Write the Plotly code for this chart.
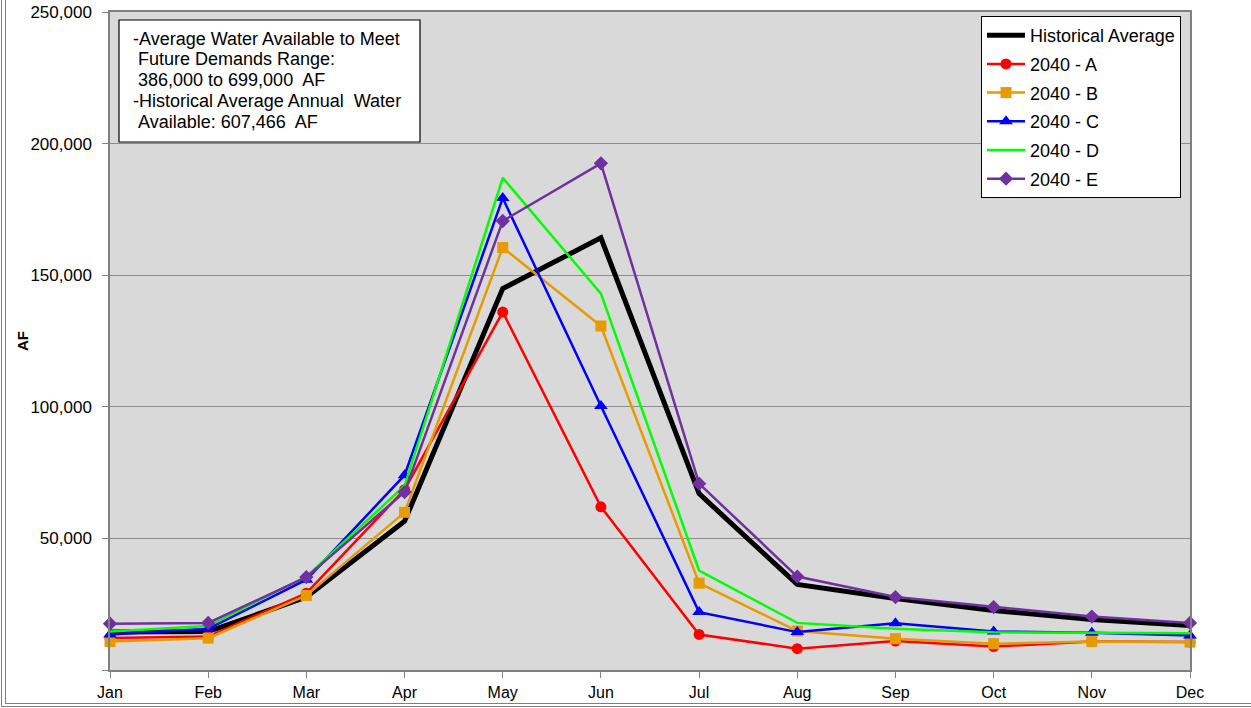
import plotly.graph_objects as go

months = ["Jan", "Feb", "Mar", "Apr", "May", "Jun", "Jul", "Aug", "Sep", "Oct", "Nov", "Dec"]

hist_avg = [14400, 14600, 27700, 56500, 144900, 164200, 67000, 32500, 27200, 22600, 19200, 16900]
s_2040_a = [12200, 12700, 29200, 68500, 136000, 62000, 13500, 8100, 11000, 8900, 10800, 10600]
s_2040_b = [10800, 12100, 28300, 59900, 160500, 130700, 33000, 14800, 11900, 10000, 10800, 10600]
s_2040_c = [13500, 15700, 34300, 74000, 179300, 100300, 22000, 14400, 17800, 14600, 14200, 13100]
s_2040_d = [14600, 16700, 35500, 70000, 187000, 143000, 37800, 17900, 15700, 14300, 14200, 14000]
s_2040_e = [17600, 17900, 35300, 67600, 170600, 192500, 70800, 35500, 27700, 23900, 20300, 17900]

y_tickvals = [0, 50000, 100000, 150000, 200000, 250000]
y_ticktext = ["", "50,000", "100,000", "150,000", "200,000", "250,000"]

note_lines = [
    "-Average Water Available to Meet",
    "\u00a0Future Demands Range:",
    "\u00a0386,000 to 699,000  AF",
    "-Historical Average Annual  Water",
    "\u00a0Available: 607,466  AF",
]

FONT = "Liberation Sans, Arial, sans-serif"

W, H = 1251, 708
L, R, T, B = 110, 1190, 12, 670
PW, PH = R - L, B - T


def px(x):
    return (x - L) / PW


def py(y):
    return (B - y) / PH


fig = go.Figure()

series = [
    ("Historical Average", hist_avg, "#000000", 5, None, 0),
    ("2040 - A", s_2040_a, "#FF0000", 2.5, "circle", 11),
    ("2040 - B", s_2040_b, "#E69B00", 2.5, "square", 11),
    ("2040 - C", s_2040_c, "#0000FF", 2.5, "triangle-up", 12),
    ("2040 - D", s_2040_d, "#00FF00", 2.5, None, 0),
    ("2040 - E", s_2040_e, "#7030A0", 2.5, "diamond", 11),
]

for name, vals, color, lw, sym, size in series:
    if sym:
        fig.add_trace(go.Scatter(
            x=months, y=vals, name=name, mode="lines+markers",
            line=dict(color=color, width=lw),
            marker=dict(symbol=sym, size=size, color=color),
            cliponaxis=False, legendgroup=name,
        ))
    else:
        fig.add_trace(go.Scatter(
            x=months, y=vals, name=name, mode="lines",
            line=dict(color=color, width=lw),
            cliponaxis=False, legendgroup=name,
        ))

shapes = [
    # note box
    dict(type="rect", xref="paper", yref="paper",
         x0=px(119), x1=px(420), y0=py(142), y1=py(20),
         line=dict(color="black", width=1.2), fillcolor="white", layer="above"),
    # outer frame (left double line, bottom double line)
    dict(type="line", xref="paper", yref="paper", x0=px(1.5), x1=px(1.5), y0=py(707), y1=py(-5),
         line=dict(color="#7f7f7f", width=1)),
    dict(type="line", xref="paper", yref="paper", x0=px(5.5), x1=px(5.5), y0=py(704), y1=py(-5),
         line=dict(color="#7f7f7f", width=1)),
    dict(type="line", xref="paper", yref="paper", x0=px(1.5), x1=px(1260), y0=py(706.5), y1=py(706.5),
         line=dict(color="#7f7f7f", width=1)),
    dict(type="line", xref="paper", yref="paper", x0=px(5.5), x1=px(1260), y0=py(703.5), y1=py(703.5),
         line=dict(color="#7f7f7f", width=1)),
]

annotations = []
for i, line in enumerate(note_lines):
    annotations.append(dict(
        xref="paper", yref="paper", x=px(131), y=py(38.5 + 20.8 * i),
        xanchor="left", yanchor="middle", showarrow=False, align="left",
        text=line, font=dict(family=FONT, size=18, color="black"),
    ))
annotations.append(dict(
    xref="paper", yref="paper", x=px(22), y=0.5, xanchor="center", yanchor="middle",
    showarrow=False, text="<b>AF</b>", textangle=-90,
    font=dict(family=FONT, size=15, color="black"),
))

fig.update_layout(
    width=W, height=H,
    margin=dict(l=L, r=W - R, t=T, b=H - B, pad=0, autoexpand=False),
    paper_bgcolor="white",
    plot_bgcolor="#D9D9D9",
    font=dict(family=FONT, size=16, color="black"),
    showlegend=True,
    legend=dict(
        x=px(1181), y=py(16), xanchor="right", yanchor="top",
        bgcolor="white", bordercolor="black", borderwidth=1,
        font=dict(family=FONT, size=18, color="black"),
        tracegroupgap=2.3, itemwidth=38,
        traceorder="grouped",
    ),
    xaxis=dict(
        type="category", range=[0, len(months) - 1], automargin=False,
        showgrid=False, zeroline=False,
        showline=True, linecolor="#808080", linewidth=1.5, mirror=True,
        ticks="outside", ticklen=6, tickcolor="#808080", tickwidth=1,
        ticklabelstandoff=1,
        tickfont=dict(family=FONT, size=16, color="black"),
    ),
    yaxis=dict(
        range=[0, 250000], tickvals=y_tickvals, ticktext=y_ticktext, automargin=False,
        showgrid=True, gridcolor="#8C8C8C", gridwidth=1.2, zeroline=False,
        showline=True, linecolor="#808080", linewidth=1.5, mirror=True,
        ticks="outside", ticklen=6, tickcolor="#808080", tickwidth=1,
        ticklabelstandoff=7,
        tickfont=dict(family=FONT, size=17, color="black"),
    ),
    shapes=shapes,
    annotations=annotations,
)

fig.write_html(
    "out.html",
    config={"displayModeBar": False},
    post_script="document.body.style.margin='0';document.body.style.overflow='hidden';",
)
